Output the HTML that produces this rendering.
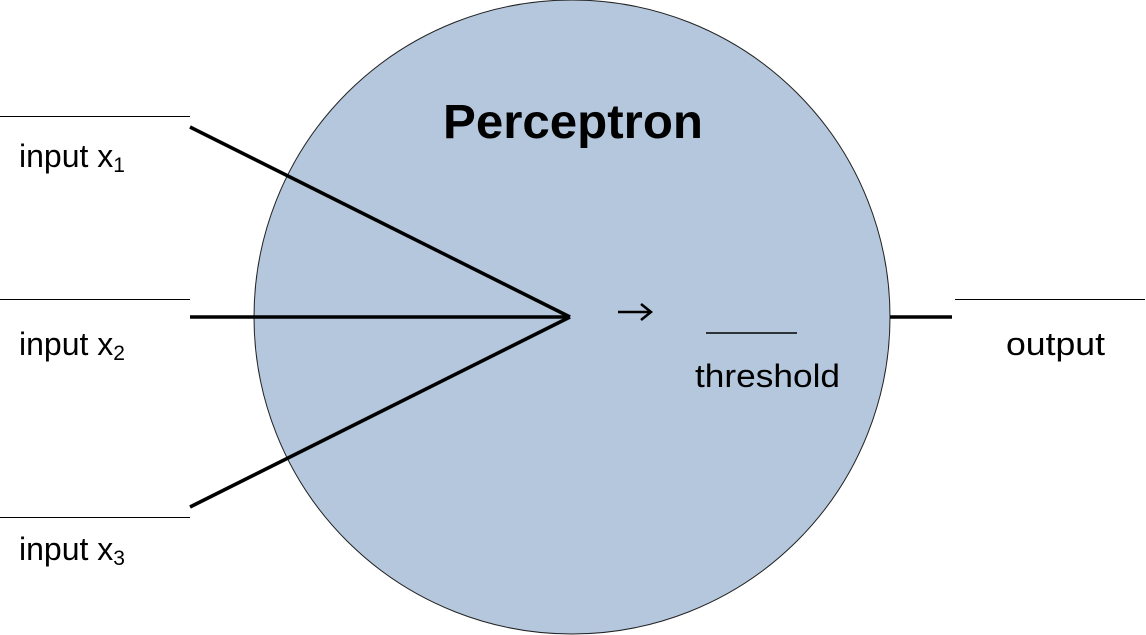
<!DOCTYPE html>
<html><head><style>body{margin:0;background:#fff}svg{display:block}</style></head><body>
<svg width="1146" height="635" viewBox="0 0 1146 635" font-family="Liberation Sans, sans-serif">
<ellipse cx="572" cy="317" rx="318" ry="317" fill="#b4c7dc" stroke="#222" stroke-width="1"/>
<g stroke="#000" stroke-width="1">
<line x1="0" y1="116.5" x2="190" y2="116.5"/>
<line x1="0" y1="299.5" x2="190" y2="299.5"/>
<line x1="0" y1="517.5" x2="190" y2="517.5"/>
<line x1="955" y1="299.5" x2="1145" y2="299.5"/>
<line x1="706" y1="333" x2="797" y2="333" stroke-width="1.5"/>
</g>
<g stroke="#000" stroke-width="3.5">
<line x1="190" y1="127" x2="570" y2="317"/>
<line x1="190" y1="317" x2="570" y2="317"/>
<line x1="190" y1="507" x2="570" y2="317"/>
<line x1="890" y1="317" x2="952" y2="317"/>
</g>
<path d="M618 312 H650 M641 304 L651 312 L641 320" stroke="#000" stroke-width="2.5" fill="none"/>
<text x="573" y="138" font-size="48" font-weight="bold" text-anchor="middle" textLength="260" lengthAdjust="spacingAndGlyphs">Perceptron</text>
<g font-size="32">
<text x="19" y="167">input x<tspan font-size="21" dy="5">1</tspan></text>
<text x="19" y="355">input x<tspan font-size="21" dy="5">2</tspan></text>
<text x="19" y="560">input x<tspan font-size="21" dy="5">3</tspan></text>
<text x="1006" y="355" textLength="99" lengthAdjust="spacingAndGlyphs">output</text>
<text x="695" y="387" textLength="145" lengthAdjust="spacingAndGlyphs">threshold</text>
</g>
</svg>
</body></html>
